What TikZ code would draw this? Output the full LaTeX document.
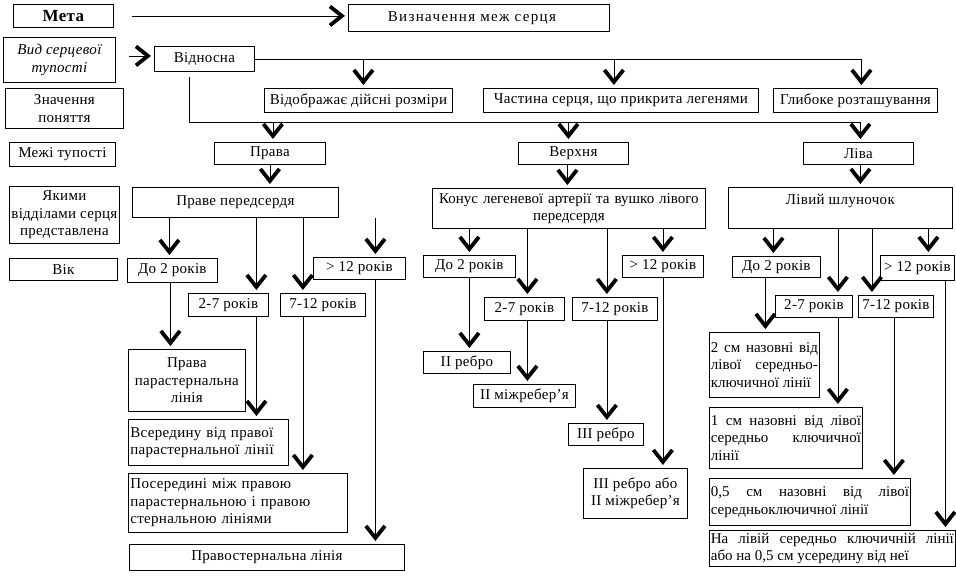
\documentclass[tikz,border=0pt]{standalone}
\usepackage{fontspec}
\setmainfont{Liberation Serif}[LetterSpace=2]
\usetikzlibrary{arrows.meta}

\begin{document}
\begin{tikzpicture}[
    x=1pt, y=-1pt,
    font=\fontsize{15}{17.5}\selectfont,
    box/.style={rectangle, draw, line width=0.8pt, anchor=north west, inner sep=2pt, align=center},
    wh/.style 2 args={minimum width=#1pt, minimum height=#2pt},
    tw/.style={text width=#1pt},
    tight/.style={font=\fontsize{15}{17.5}\selectfont\addfontfeatures{LetterSpace=0}},
    arrow/.style={-{Straight Barb[length=12pt, width=19pt, line width=3.8pt]}, line width=0.8pt, shorten >=3pt}
]
\useasboundingbox (0,0) rectangle (956,576);

% left column
\node[box, wh={100}{23}, font=\fontsize{17}{20}\selectfont\bfseries] (meta) at (13,4) {Мета};
\node[box, wh={112}{45}, font=\fontsize{15}{17.5}\selectfont\itshape] (vid) at (3,37) {Вид серцевої\\тупості};
\node[box, wh={118}{40}] (znach) at (5,88) {Значення\\поняття};
\node[box, wh={106}{24}] (mezhi) at (9,142) {Межі тупості};
\node[box, wh={108}{57}] (yak) at (9,186) {Якими\\відділами серця\\представлена};
\node[box, wh={108}{22}] (vik) at (9,258) {Вік};

% top rows
\node[box, wh={261}{27}, font=\fontsize{15}{17.5}\selectfont\addfontfeatures{LetterSpace=9}] (vyz) at (348,4) {Визначення меж серця\hspace{14pt}};
\node[box, wh={100}{25}] (vidn) at (154,46) {Відносна};
\node[box, wh={188}{24}] (vidobr) at (264,88) {Відображає дійсні розміри};
\node[box, wh={275}{24}, inner xsep=1pt] (chast) at (483,88) {Частина серця, що прикрита легенями};
\node[box, wh={164}{24}] (glyb) at (773,88) {Глибоке розташування};
\node[box, wh={111}{22}] (prava) at (214,142) {Права};
\node[box, wh={110}{22}] (verh) at (518,142) {Верхня};
\node[box, wh={110}{22}] (liva) at (803,142) {Ліва};
\node[box, wh={206}{30}] (rpa) at (132,187) {Праве передсердя};
\node[box, wh={273}{40}, tw={269}, tight] (konus) at (432,188) {Конус легеневої артерії та вушко лівого\\передсердя};
\node[box, wh={224}{41}] (lsh) at (728,187) {Лівий шлуночок\\\mbox{}};

% right border group
\node[box, wh={90}{24}] (r02) at (127,258) {До 2 років};
\node[box, wh={92}{22}] (r12) at (313,257) {> 12 років};
\node[box, wh={80}{23}] (r27) at (188,293) {2-7 років};
\node[box, wh={85}{23}] (r712) at (280,293) {7-12 років};
\node[box, wh={117}{62}] (rpsl) at (128,349) {Права\\парастернальна\\лінія};
\node[box, wh={160}{46}, tw={156}, align=left] (rvs) at (128,419) {Всередину від правої\\парастернальної лінії};
\node[box, wh={219}{59}, tw={215}, align=left] (rpos) at (128,473) {Посередині між правою\\парастернальною і правою\\стернальною лініями};
\node[box, wh={275}{26}] (rst) at (129,544) {Правостернальна лінія};

% upper border group
\node[box, wh={92}{22}] (v02) at (423,255) {До 2 років};
\node[box, wh={81}{22}] (v12) at (622,255) {> 12 років};
\node[box, wh={80}{23}] (v27) at (484,297) {2-7 років};
\node[box, wh={85}{23}] (v712) at (572,297) {7-12 років};
\node[box, wh={87}{22}] (vr2) at (423,351) {II ребро};
\node[box, wh={102}{23}] (vm2) at (473,384) {II міжребер’я};
\node[box, wh={75}{22}] (vr3) at (568,423) {III ребро};
\node[box, wh={104}{50}] (vr3m2) at (583,468) {III ребро або\\II міжребер’я};

% left border group
\node[box, wh={88}{21}] (l02) at (732,256) {До 2 років};
\node[box, wh={74}{25}] (l12) at (880,255) {> 12 років};
\node[box, wh={77}{22}] (l27) at (775,295) {2-7 років};
\node[box, wh={75}{22}] (l712) at (858,295) {7-12 років};
\node[box, wh={110}{65}, tw={107}, inner xsep=1pt, align=justify, tight] (l2cm) at (709,332) {2 см назовні від\linebreak лівої середньо-\linebreak ключичної лінії};
\node[box, wh={153}{61}, tw={150}, inner xsep=1pt, align=justify, tight] (l1cm) at (709,407) {1 см назовні від лівої\linebreak середньо ключичної\linebreak лінії};
\node[box, wh={201}{47}, tw={198}, inner xsep=1pt, align=justify, tight] (l05) at (709,478) {0,5 см назовні від лівої\linebreak середньоключичної лінії};
\node[box, wh={246}{36}, tw={243}, inner xsep=1pt, align=justify, tight] (lna) at (709,530) {На лівій середньо ключичній лінії\linebreak або на 0,5 см усередину від неї};

% connectors
\coordinate (busB) at ([yshift=20pt]liva.north);
\draw[arrow, shorten <=18pt] (meta.east) -- (meta.east -| vyz.west);
\draw[arrow, shorten <=13pt] ([yshift=4pt]vid.east) -- ([yshift=4pt]vid.east -| vidn.west);
\draw[arrow] (vidn.east) -| ([xshift=6pt]glyb.north);
\draw[arrow] ([xshift=5pt]vidobr.north |- vidn.east) -- ([xshift=5pt]vidobr.north);
\draw[arrow] ([xshift=-7pt]chast.north |- vidn.east) -- ([xshift=-7pt]chast.north);
\draw[arrow, shorten <=5pt] ([xshift=-15pt]vidn.south) |- ([xshift=2pt]busB) -- ([xshift=2pt]liva.north);
\draw[arrow] ([xshift=3pt]prava.north |- busB) -- ([xshift=3pt]prava.north);
\draw[arrow] ([xshift=-5pt]verh.north |- busB) -- ([xshift=-5pt]verh.north);
\draw[arrow] (prava.south) -- (prava.south |- rpa.north);
\draw[arrow] ([xshift=-6pt]verh.south) -- ([xshift=-6pt]verh.south |- konus.north);
\draw[arrow] ([xshift=2pt]liva.south) -- ([xshift=2pt]liva.south |- lsh.north);

\draw[arrow] ([xshift=-3pt]r02.north |- rpa.south) -- ([xshift=-3pt]r02.north);
\draw[arrow] ([xshift=28pt]r27.north |- rpa.south) -- ([xshift=28pt]r27.north);
\draw[arrow] ([xshift=-20pt]r712.north |- rpa.south) -- ([xshift=-20pt]r712.north);
\draw[arrow] ([xshift=16pt]r12.north |- rpa.south) -- ([xshift=16pt]r12.north);
\draw[arrow] ([xshift=-2pt]r02.south) -- ([xshift=-2pt]r02.south |- rpsl.north);
\draw[arrow] ([xshift=28pt]r27.south) -- ([xshift=28pt]r27.south |- rvs.north);
\draw[arrow] ([xshift=-20pt]r712.south) -- ([xshift=-20pt]r712.south |- rpos.north);
\draw[arrow] ([xshift=16pt]r12.south) -- ([xshift=16pt]r12.south |- rst.north);

\draw[arrow] (v02.north |- konus.south) -- (v02.north);
\draw[arrow] ([xshift=3pt]v27.north |- konus.south) -- ([xshift=3pt]v27.north);
\draw[arrow] ([xshift=-8pt]v712.north |- konus.south) -- ([xshift=-8pt]v712.north);
\draw[arrow] (v12.north |- konus.south) -- (v12.north);
\draw[arrow] (v02.south) -- (v02.south |- vr2.north);
\draw[arrow] ([xshift=3pt]v27.south) -- ([xshift=3pt]v27.south |- vm2.north);
\draw[arrow] ([xshift=-8pt]v712.south) -- ([xshift=-8pt]v712.south |- vr3.north);
\draw[arrow] (v12.south) -- (v12.south |- vr3m2.north);

\draw[arrow] ([xshift=-3pt]l02.north |- lsh.south) -- ([xshift=-3pt]l02.north);
\draw[arrow] ([xshift=24pt]l27.north |- lsh.south) -- ([xshift=24pt]l27.north);
\draw[arrow] ([xshift=-24pt]l712.north |- lsh.south) -- ([xshift=-24pt]l712.north);
\draw[arrow] ([xshift=11pt]l12.north |- lsh.south) -- ([xshift=11pt]l12.north);
\draw[arrow] ([xshift=-11pt]l02.south) -- ([xshift=-11pt]l02.south |- l2cm.north);
\draw[arrow] ([xshift=24pt]l27.south) -- ([xshift=24pt]l27.south |- l1cm.north);
\draw[arrow] ([xshift=-2pt]l712.south) -- ([xshift=-2pt]l712.south |- l05.north);
\draw[arrow] ([xshift=28pt]l12.south) -- ([xshift=28pt]l12.south |- lna.north);
\end{tikzpicture}
\end{document}
